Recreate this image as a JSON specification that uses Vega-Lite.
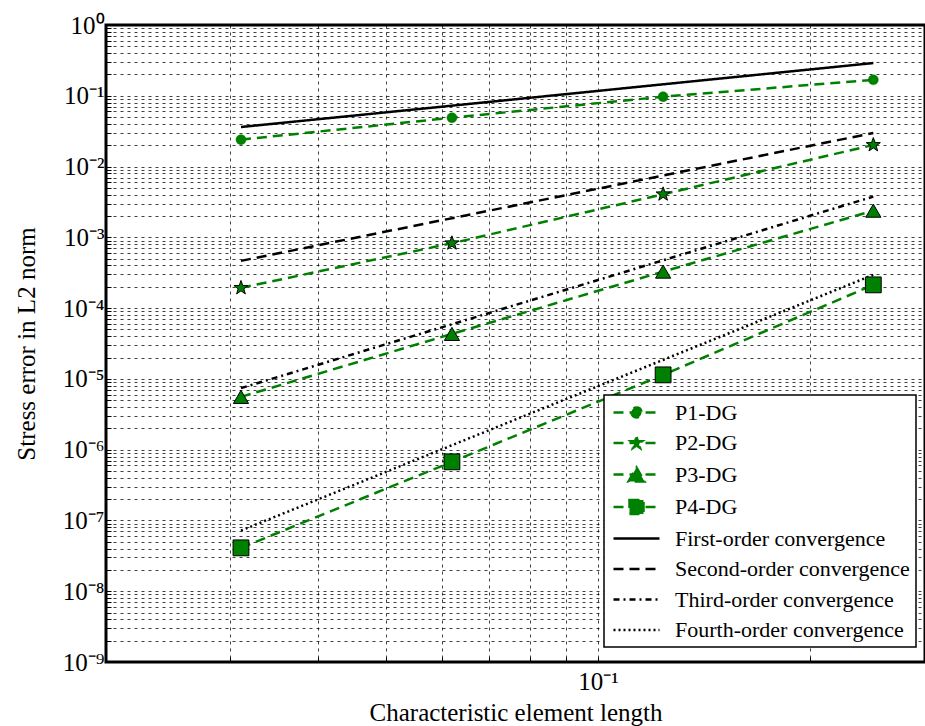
{
  "$schema": "https://vega.github.io/schema/vega-lite/v6.json",
  "autosize": {"type": "none"},
  "padding": {"left": 106, "top": 25, "right": 0, "bottom": 64},
  "width": 819,
  "height": 637,
  "background": "white",
  "config": {
    "view": {"stroke": "#000", "strokeWidth": 3},
    "font": "Liberation Serif",
    "axis": {
      "labelFont": "Liberation Serif",
      "titleFont": "Liberation Serif",
      "labelColor": "#000",
      "titleColor": "#000",
      "titleFontWeight": "normal",
      "domain": false,
      "ticks": true,
      "tickSize": -5,
      "tickColor": "#000",
      "tickWidth": 1,
      "gridColor": "#000",
      "gridOpacity": 0.75,
      "gridDash": [3, 4],
      "gridWidth": 1,
      "labelFlush": false,
      "labelOverlap": false,
      "labelBound": false
    }
  },
  "data": {
    "values": [
      {"series": "P1-DG", "h": 0.0311, "err": 0.024},
      {"series": "P1-DG", "h": 0.062, "err": 0.049},
      {"series": "P1-DG", "h": 0.1237, "err": 0.097},
      {"series": "P1-DG", "h": 0.246, "err": 0.168},
      {"series": "P2-DG", "h": 0.0311, "err": 0.000193},
      {"series": "P2-DG", "h": 0.062, "err": 0.000825},
      {"series": "P2-DG", "h": 0.1237, "err": 0.00406},
      {"series": "P2-DG", "h": 0.246, "err": 0.0202},
      {"series": "P3-DG", "h": 0.0311, "err": 0.00000557},
      {"series": "P3-DG", "h": 0.062, "err": 0.0000432},
      {"series": "P3-DG", "h": 0.1237, "err": 0.000328},
      {"series": "P3-DG", "h": 0.246, "err": 0.00238},
      {"series": "P4-DG", "h": 0.0311, "err": 0.000000041},
      {"series": "P4-DG", "h": 0.062, "err": 0.000000673},
      {"series": "P4-DG", "h": 0.1237, "err": 0.0000114},
      {"series": "P4-DG", "h": 0.246, "err": 0.000213},
      {"series": "First-order convergence", "h": 0.0311, "err": 0.0362},
      {"series": "First-order convergence", "h": 0.246, "err": 0.29},
      {"series": "Second-order convergence", "h": 0.0311, "err": 0.000465},
      {"series": "Second-order convergence", "h": 0.246, "err": 0.0298},
      {"series": "Third-order convergence", "h": 0.0311, "err": 0.0000074},
      {"series": "Third-order convergence", "h": 0.246, "err": 0.00376},
      {"series": "Fourth-order convergence", "h": 0.0311, "err": 0.000000072},
      {"series": "Fourth-order convergence", "h": 0.246, "err": 0.000295}
    ]
  },
  "encoding": {
    "x": {
      "field": "h",
      "type": "quantitative",
      "scale": {"type": "log", "domain": [0.02, 0.2913], "nice": false},
      "axis": {
        "title": "Characteristic element length",
        "titleFontSize": 25,
        "titlePadding": 6,
        "labelFontSize": 25,
        "labelPadding": 12,
        "values": [0.03, 0.04, 0.05, 0.06, 0.07, 0.08, 0.09, 0.1, 0.2],
        "labelExpr": "datum.value == 0.1 ? '10⁻¹' : ''"
      }
    },
    "y": {
      "field": "err",
      "type": "quantitative",
      "scale": {"type": "log", "domain": [1e-9, 1], "nice": false},
      "axis": {
        "title": "Stress error in L2 norm",
        "titleFontSize": 25,
        "titlePadding": 23,
        "labelFontSize": 25,
        "labelPadding": 7,
        "values": [1e-9, 2e-9, 3e-9, 4e-9, 5e-9, 6e-9, 7e-9, 8e-9, 9e-9,
                   1e-8, 2e-8, 3e-8, 4e-8, 5e-8, 6e-8, 7e-8, 8e-8, 9e-8,
                   1e-7, 2e-7, 3e-7, 4e-7, 5e-7, 6e-7, 7e-7, 8e-7, 9e-7,
                   1e-6, 2e-6, 3e-6, 4e-6, 5e-6, 6e-6, 7e-6, 8e-6, 9e-6,
                   1e-5, 2e-5, 3e-5, 4e-5, 5e-5, 6e-5, 7e-5, 8e-5, 9e-5,
                   1e-4, 2e-4, 3e-4, 4e-4, 5e-4, 6e-4, 7e-4, 8e-4, 9e-4,
                   1e-3, 2e-3, 3e-3, 4e-3, 5e-3, 6e-3, 7e-3, 8e-3, 9e-3,
                   1e-2, 2e-2, 3e-2, 4e-2, 5e-2, 6e-2, 7e-2, 8e-2, 9e-2,
                   1e-1, 2e-1, 3e-1, 4e-1, 5e-1, 6e-1, 7e-1, 8e-1, 9e-1, 1],
        "labelExpr": "abs(log(datum.value)/LN10 - round(log(datum.value)/LN10)) < 0.001 ? ('10' + (round(log(datum.value)/LN10) == 0 ? '⁰' : '⁻' + ['⁰','¹','²','³','⁴','⁵','⁶','⁷','⁸','⁹'][-round(log(datum.value)/LN10)])) : ''"
      }
    }
  },
  "layer": [
    {
      "mark": {"type": "line", "strokeWidth": 2.5, "clip": true},
      "encoding": {
        "color": {
          "field": "series", "type": "nominal",
          "scale": {
            "domain": ["P1-DG", "P2-DG", "P3-DG", "P4-DG", "First-order convergence", "Second-order convergence", "Third-order convergence", "Fourth-order convergence"],
            "range": ["#008000", "#008000", "#008000", "#008000", "#000000", "#000000", "#000000", "#000000"]
          },
          "legend": {
            "title": null, "orient": "none", "legendX": 498, "legendY": 370,
            "padding": 6, "strokeColor": "#000", "fillColor": "#fff", "cornerRadius": 0,
            "labelFont": "Liberation Serif", "labelFontSize": 22, "labelColor": "#000", "labelLimit": 400,
            "symbolSize": 400, "symbolStrokeWidth": 2.5, "symbolOpacity": 1, "labelOffset": 42, "rowPadding": 7.5,
            "encode": {
              "legend": {"update": {"strokeWidth": {"value": 1.5}}},
              "symbols": {"update": {"stroke": {"signal": "scale('color', datum.value)"}, "fill": {"signal": "scale('color', datum.value)"}, "opacity": {"value": 1}, "strokeWidth": {"value": 2.5}}}
            }
          }
        },
        "strokeDash": {
          "field": "series", "type": "nominal",
          "scale": {
            "domain": ["P1-DG", "P2-DG", "P3-DG", "P4-DG", "First-order convergence", "Second-order convergence", "Third-order convergence", "Fourth-order convergence"],
            "range": [[10, 6], [10, 6], [10, 6], [10, 6], [1, 0], [10, 6], [6, 4, 2, 4], [2, 3]]
          },
          "legend": {
            "title": null, "orient": "none", "legendX": 498, "legendY": 370,
            "padding": 6, "strokeColor": "#000", "fillColor": "#fff", "cornerRadius": 0,
            "labelFont": "Liberation Serif", "labelFontSize": 22, "labelColor": "#000", "labelLimit": 400,
            "symbolSize": 400, "symbolStrokeWidth": 2.5, "symbolOpacity": 1, "labelOffset": 42, "rowPadding": 7.5,
            "encode": {
              "legend": {"update": {"strokeWidth": {"value": 1.5}}},
              "symbols": {"update": {"stroke": {"signal": "scale('color', datum.value)"}, "fill": {"signal": "scale('color', datum.value)"}, "opacity": {"value": 1}, "strokeWidth": {"value": 2.5}}}
            }
          }
        }
      }
    },
    {
      "transform": [{"filter": "datum.series == 'P1-DG'"}],
      "mark": {"type": "point", "shape": "circle", "filled": true, "size": 100, "fill": "#008000", "stroke": "#008000", "strokeWidth": 0.5, "opacity": 1}
    },
    {
      "transform": [{"filter": "datum.series == 'P2-DG'"}],
      "mark": {"type": "point", "shape": "M0,-1L0.235,-0.324L0.951,-0.309L0.38,0.124L0.588,0.809L0,0.4L-0.588,0.809L-0.38,0.124L-0.951,-0.309L-0.235,-0.324Z", "filled": true, "size": 220, "fill": "#008000", "stroke": "#000", "strokeWidth": 1, "opacity": 1}
    },
    {
      "transform": [{"filter": "datum.series == 'P3-DG'"}],
      "mark": {"type": "point", "shape": "triangle-up", "filled": true, "size": 230, "fill": "#008000", "stroke": "#000", "strokeWidth": 1, "opacity": 1}
    },
    {
      "transform": [{"filter": "datum.series == 'P4-DG'"}],
      "mark": {"type": "point", "shape": "square", "filled": true, "size": 250, "fill": "#008000", "stroke": "#000", "strokeWidth": 1, "opacity": 1}
    },
    {
      "mark": {"type": "point", "filled": true, "opacity": 0},
      "encoding": {
        "shape": {
          "field": "series", "type": "nominal",
          "scale": {
            "domain": ["P1-DG", "P2-DG", "P3-DG", "P4-DG", "First-order convergence", "Second-order convergence", "Third-order convergence", "Fourth-order convergence"],
            "range": [
              "M-0.8,0H3.8M1,0A0.5,0.5 0 1,0 2,0A0.5,0.5 0 1,0 1,0Z",
              "M-0.8,0H3.8M1.5,-0.6L1.641,-0.194L2.071,-0.185L1.728,0.074L1.853,0.485L1.5,0.24L1.147,0.485L1.272,0.074L0.929,-0.185L1.359,-0.194Z",
              "M-0.8,0H3.8M1.5,-0.7L2.3,0.7L0.7,0.7Z",
              "M-0.8,0H3.8M0.8,-0.7H2.2V0.7H0.8Z",
              "M-0.8,0H3.8",
              "M-0.8,0H3.8",
              "M-0.8,0H3.8",
              "M-0.8,0H3.8"
            ]
          },
          "legend": {
            "title": null, "orient": "none", "legendX": 498, "legendY": 370,
            "padding": 6, "strokeColor": "#000", "fillColor": "#fff", "cornerRadius": 0,
            "labelFont": "Liberation Serif", "labelFontSize": 22, "labelColor": "#000", "labelLimit": 400,
            "symbolSize": 400, "symbolStrokeWidth": 2.5, "symbolOpacity": 1, "labelOffset": 42, "rowPadding": 7.5,
            "encode": {
              "legend": {"update": {"strokeWidth": {"value": 1.5}}},
              "symbols": {"update": {"stroke": {"signal": "scale('color', datum.value)"}, "fill": {"signal": "scale('color', datum.value)"}, "opacity": {"value": 1}, "strokeWidth": {"value": 2.5}}}
            }
          }
        },
        "color": {"field": "series", "type": "nominal"},
        "strokeDash": {"field": "series", "type": "nominal"}
      }
    }
  ]
}
